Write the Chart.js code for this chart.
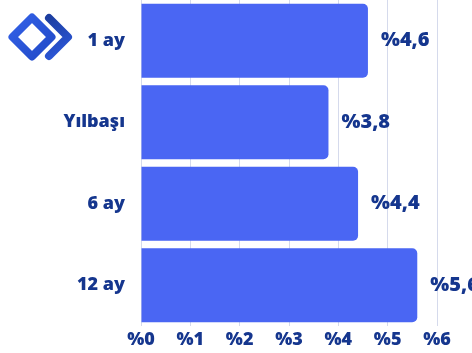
<!DOCTYPE html>
<html>
<head>
<meta charset="utf-8">
<script src="https://cdn.jsdelivr.net/npm/chart.js@4.4.1/dist/chart.umd.min.js"></script>
<style>
	html, body { margin: 0; padding: 0; background: #fff; }
	#wrap { width: 472px; height: 353px; position: relative; }
</style>
</head>
<body>
<div id="wrap"><canvas id="chart" width="472" height="353"></canvas></div>
<script>
// Data
const categories = ['1 ay', 'Yılbaşı', '6 ay', '12 ay'];
const values = [4.6, 3.8, 4.4, 5.6];
const xTicks = [0, 1, 2, 3, 4, 5, 6];

const BAR_COLOR = '#4a66f3';
const TEXT_COLOR = '#15368e';
const GRID_COLOR = '#d5daec';
const FONT = '"Open Sans", sans-serif';

const fmtPct = (v) => '%' + String(v).replace('.', ',');

// Value labels to the right of each bar
const valueLabels = {
	id: 'valueLabels',
	afterDatasetsDraw(chart) {
		const ctx = chart.ctx;
		const meta = chart.getDatasetMeta(0);
		ctx.save();
		ctx.font = '800 20px ' + FONT;
		ctx.fillStyle = TEXT_COLOR;
		ctx.textAlign = 'left';
		ctx.textBaseline = 'middle';
		meta.data.forEach((bar, i) => {
			ctx.fillText(fmtPct(values[i]), bar.x + 13, bar.y);
		});
		ctx.restore();
	}
};

// Small logo in the top-left corner
const logo = {
	id: 'logo',
	afterDraw(chart) {
		const ctx = chart.ctx;
		ctx.save();
		ctx.lineJoin = 'round';
		ctx.lineCap = 'round';
		ctx.lineWidth = 8;

		let g = ctx.createLinearGradient(8, 14, 56, 60);
		g.addColorStop(0, '#3563ea');
		g.addColorStop(1, '#1f47c4');
		ctx.strokeStyle = g;
		ctx.beginPath();
		ctx.moveTo(12.5, 37);
		ctx.lineTo(32, 17.5);
		ctx.lineTo(51.5, 37);
		ctx.lineTo(32, 56.5);
		ctx.closePath();
		ctx.stroke();

		g = ctx.createLinearGradient(48, 14, 72, 60);
		g.addColorStop(0, '#1b3c9c');
		g.addColorStop(1, '#2f5ce4');
		ctx.strokeStyle = g;
		ctx.beginPath();
		ctx.moveTo(49, 18);
		ctx.lineTo(68, 37);
		ctx.lineTo(49, 56);
		ctx.stroke();
		ctx.restore();
	}
};

new Chart(document.getElementById('chart').getContext('2d'), {
	type: 'bar',
	data: {
		labels: categories,
		datasets: [{
			data: values,
			backgroundColor: BAR_COLOR,
			borderRadius: { topLeft: 0, bottomLeft: 0, topRight: 5, bottomRight: 5 },
			borderSkipped: false,
			barPercentage: 0.91,
			categoryPercentage: 1
		}]
	},
	options: {
		indexAxis: 'y',
		responsive: false,
		animation: false,
		layout: { padding: { top: 0, right: 35, bottom: 0, left: 0 } },
		plugins: {
			legend: { display: false },
			tooltip: { enabled: false }
		},
		scales: {
			x: {
				min: 0,
				max: 6,
				afterBuildTicks(axis) {
					axis.ticks = xTicks.map((v) => ({ value: v }));
				},
				afterFit(axis) {
					axis.height = 27;
					axis.paddingLeft = 0;
					axis.paddingRight = 0;
				},
				grid: { color: GRID_COLOR, drawTicks: false, lineWidth: 1 },
				border: { display: false },
				ticks: {
					padding: 3,
					color: TEXT_COLOR,
					font: { family: FONT, size: 18, weight: '800' },
					callback: (v) => '%' + v
				}
			},
			y: {
				afterFit(axis) {
					axis.width = 141;
					axis.paddingTop = 0;
					axis.paddingBottom = 0;
				},
				grid: { display: false, drawTicks: false },
				border: { display: false },
				ticks: {
					padding: 16,
					color: TEXT_COLOR,
					font: { family: FONT, size: 18, weight: '800' }
				}
			}
		}
	},
	plugins: [valueLabels, logo]
});
</script>
</body>
</html>
